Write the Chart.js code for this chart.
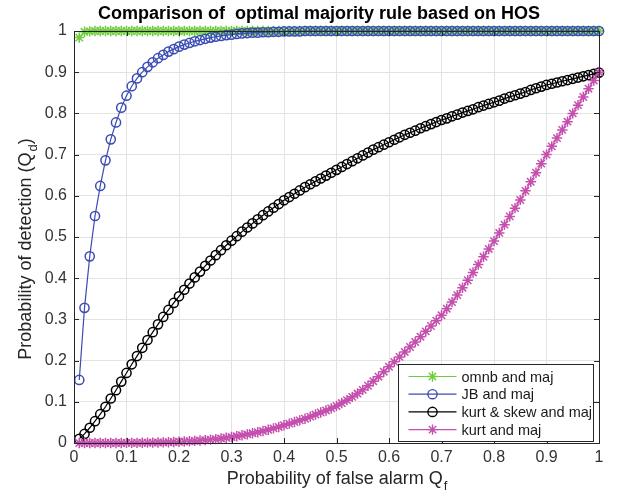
<!DOCTYPE html>
<html>
<head>
<meta charset="utf-8">
<script src="https://cdn.jsdelivr.net/npm/chart.js@4"></script>
<style>
  body { margin: 0; background: #fff; }
  canvas { display: block; }
</style>
</head>
<body>
<canvas id="rocChart" width="617" height="498"></canvas>
<script>
// false alarm probability (x)
const qf = [
  0.01, 0.02, 0.03, 0.04, 0.05, 0.06, 0.07, 0.08, 0.09, 0.10,
  0.11, 0.12, 0.13, 0.14, 0.15, 0.16, 0.17, 0.18, 0.19, 0.20,
  0.21, 0.22, 0.23, 0.24, 0.25, 0.26, 0.27, 0.28, 0.29, 0.30,
  0.31, 0.32, 0.33, 0.34, 0.35, 0.36, 0.37, 0.38, 0.39, 0.40,
  0.41, 0.42, 0.43, 0.44, 0.45, 0.46, 0.47, 0.48, 0.49, 0.50,
  0.51, 0.52, 0.53, 0.54, 0.55, 0.56, 0.57, 0.58, 0.59, 0.60,
  0.61, 0.62, 0.63, 0.64, 0.65, 0.66, 0.67, 0.68, 0.69, 0.70,
  0.71, 0.72, 0.73, 0.74, 0.75, 0.76, 0.77, 0.78, 0.79, 0.80,
  0.81, 0.82, 0.83, 0.84, 0.85, 0.86, 0.87, 0.88, 0.89, 0.90,
  0.91, 0.92, 0.93, 0.94, 0.95, 0.96, 0.97, 0.98, 0.99, 1.00
];

const omnbMaj = [
  0.984, 0.998, 0.999, 1, 1, 1, 1, 1, 1, 1,
  1, 1, 1, 1, 1, 1, 1, 1, 1, 1,
  1, 1, 1, 1, 1, 1, 1, 1, 1, 1,
  1, 1, 1, 1, 1, 1, 1, 1, 1, 1,
  1, 1, 1, 1, 1, 1, 1, 1, 1, 1,
  1, 1, 1, 1, 1, 1, 1, 1, 1, 1,
  1, 1, 1, 1, 1, 1, 1, 1, 1, 1,
  1, 1, 1, 1, 1, 1, 1, 1, 1, 1,
  1, 1, 1, 1, 1, 1, 1, 1, 1, 1,
  1, 1, 1, 1, 1, 1, 1, 1, 1, 1
];

const jbMaj = [
  0.153, 0.328, 0.453, 0.551, 0.624, 0.686, 0.737, 0.778, 0.814, 0.843,
  0.866, 0.885, 0.900, 0.913, 0.924, 0.934, 0.942, 0.950, 0.956, 0.962,
  0.967, 0.971, 0.975, 0.978, 0.981, 0.984, 0.986, 0.988, 0.990, 0.991,
  0.993, 0.994, 0.995, 0.996, 0.996, 0.997, 0.997, 0.998, 0.998, 0.999,
  0.999, 0.999, 0.999, 1, 1, 1, 1, 1, 1, 1,
  1, 1, 1, 1, 1, 1, 1, 1, 1, 1,
  1, 1, 1, 1, 1, 1, 1, 1, 1, 1,
  1, 1, 1, 1, 1, 1, 1, 1, 1, 1,
  1, 1, 1, 1, 1, 1, 1, 1, 1, 1,
  1, 1, 1, 1, 1, 1, 1, 1, 1, 1
];

const kurtSkewMaj = [
  0.010, 0.022, 0.037, 0.053, 0.070, 0.088, 0.108, 0.128, 0.149, 0.170,
  0.191, 0.211, 0.231, 0.250, 0.269, 0.288, 0.306, 0.323, 0.340, 0.356,
  0.372, 0.387, 0.402, 0.416, 0.430, 0.443, 0.456, 0.468, 0.480, 0.491,
  0.502, 0.513, 0.523, 0.533, 0.543, 0.553, 0.562, 0.571, 0.580, 0.589,
  0.597, 0.605, 0.613, 0.621, 0.628, 0.635, 0.642, 0.649, 0.656, 0.663,
  0.670, 0.677, 0.684, 0.691, 0.698, 0.705, 0.712, 0.718, 0.724, 0.730,
  0.736, 0.742, 0.748, 0.753, 0.758, 0.764, 0.769, 0.774, 0.779, 0.784,
  0.788, 0.793, 0.797, 0.802, 0.806, 0.810, 0.815, 0.819, 0.823, 0.827,
  0.831, 0.836, 0.840, 0.844, 0.848, 0.852, 0.857, 0.861, 0.865, 0.869,
  0.872, 0.875, 0.878, 0.881, 0.884, 0.887, 0.890, 0.893, 0.896, 0.899
];

const kurtMaj = [
  0, 0, 0, 0, 0, 0, 0, 0, 0.0001, 0.0002,
  0.0003, 0.0004, 0.0006, 0.0008, 0.001, 0.0013, 0.0016, 0.002, 0.0025, 0.003,
  0.0036, 0.0043, 0.0051, 0.006, 0.007, 0.0082, 0.0095, 0.011, 0.0127, 0.0145,
  0.0165, 0.0187, 0.021, 0.0235, 0.026, 0.029, 0.032, 0.0355, 0.039, 0.043,
  0.047, 0.051, 0.055, 0.059, 0.064, 0.069, 0.074, 0.079, 0.084, 0.09,
  0.097, 0.104, 0.112, 0.12, 0.129, 0.139, 0.15, 0.161, 0.173, 0.185,
  0.197, 0.209, 0.221, 0.233, 0.245, 0.258, 0.271, 0.284, 0.297, 0.31,
  0.326, 0.342, 0.359, 0.377, 0.395, 0.414, 0.433, 0.452, 0.471, 0.49,
  0.51, 0.53, 0.55, 0.57, 0.59, 0.612, 0.634, 0.656, 0.678, 0.70,
  0.72, 0.74, 0.76, 0.78, 0.80, 0.82, 0.84, 0.86, 0.88, 0.90
];

const seriesNames = ["omnb and maj", "JB and maj", "kurt & skew and maj", "kurt and maj"];
const seriesColors = ["#6fcc3c", "#3b4cb4", "#000000", "#c54fae"];
const seriesMarkers = ["star", "circle", "circle", "star"];
const markerSizes = [5.2, 4.6, 4.6, 5.2];

const FONT = "'Liberation Sans', Arial, sans-serif";
const AXIS_COLOR = "#262626";

function toPoints(ys) {
  return qf.map((x, i) => ({ x: x, y: ys[i] }));
}

// draws a matlab style marker for the legend
function drawMarker(ctx, style, x, y, r, color) {
  ctx.save();
  ctx.strokeStyle = color;
  ctx.lineWidth = 1.4;
  ctx.beginPath();
  if (style === "circle") {
    ctx.arc(x, y, r, 0, Math.PI * 2);
  } else {
    for (let k = 0; k < 4; k++) {
      const a = (k * Math.PI) / 4;
      ctx.moveTo(x - r * Math.cos(a), y - r * Math.sin(a));
      ctx.lineTo(x + r * Math.cos(a), y + r * Math.sin(a));
    }
  }
  ctx.stroke();
  ctx.restore();
}

const matlabFrame = {
  id: "matlabFrame",
  afterDraw(chart) {
    const ctx = chart.ctx;
    const a = chart.chartArea;
    const xs = chart.scales.x;
    const ys = chart.scales.y;
    ctx.save();

    // box + inward ticks
    ctx.strokeStyle = AXIS_COLOR;
    ctx.lineWidth = 1;
    ctx.strokeRect(Math.round(a.left) + 0.5, Math.round(a.top) + 0.5,
      Math.round(a.right - a.left), Math.round(a.bottom - a.top));
    ctx.beginPath();
    xs.ticks.forEach((t) => {
      const px = Math.round(xs.getPixelForValue(t.value)) + 0.5;
      ctx.moveTo(px, a.bottom);
      ctx.lineTo(px, a.bottom - 5);
      ctx.moveTo(px, a.top);
      ctx.lineTo(px, a.top + 5);
    });
    ys.ticks.forEach((t) => {
      const py = Math.round(ys.getPixelForValue(t.value)) + 0.5;
      ctx.moveTo(a.left, py);
      ctx.lineTo(a.left + 5, py);
      ctx.moveTo(a.right, py);
      ctx.lineTo(a.right - 5, py);
    });
    ctx.stroke();

    // title
    ctx.fillStyle = "#000";
    ctx.font = "bold 18px " + FONT;
    ctx.textAlign = "center";
    ctx.textBaseline = "alphabetic";
    ctx.fillText("Comparison of  optimal majority rule based on HOS", 319, 19);

    // x axis title with subscript
    ctx.fillStyle = AXIS_COLOR;
    const xMain = "Probability of false alarm Q";
    ctx.font = "18px " + FONT;
    const wMain = ctx.measureText(xMain).width;
    ctx.font = "13px " + FONT;
    const wSub = ctx.measureText("f").width;
    const xStart = (a.left + a.right) / 2 - (wMain + wSub) / 2;
    ctx.textAlign = "left";
    ctx.font = "18px " + FONT;
    ctx.fillText(xMain, xStart, 484);
    ctx.font = "13px " + FONT;
    ctx.fillText("f", xStart + wMain + 1, 490);

    // y axis title with subscript
    ctx.save();
    ctx.translate(31, (a.top + a.bottom) / 2 + 12);
    ctx.rotate(-Math.PI / 2);
    const yMain = "Probability of detection (Q";
    ctx.font = "18px " + FONT;
    const wy1 = ctx.measureText(yMain).width;
    const wy3 = ctx.measureText(")").width;
    ctx.font = "13px " + FONT;
    const wy2 = ctx.measureText("d").width;
    const yStart = -(wy1 + wy2 + wy3 + 1) / 2;
    ctx.font = "18px " + FONT;
    ctx.fillText(yMain, yStart, 0);
    ctx.font = "13px " + FONT;
    ctx.fillText("d", yStart + wy1 + 1, 6);
    ctx.font = "18px " + FONT;
    ctx.fillText(")", yStart + wy1 + wy2 + 1, 0);
    ctx.restore();

    // legend box
    const lw = 195, lh = 77;
    const lx = Math.round(a.right - 6 - lw) + 0.5;
    const ly = Math.round(a.bottom - 2 - lh) + 0.5;
    ctx.fillStyle = "#fff";
    ctx.fillRect(lx, ly, lw, lh);
    ctx.strokeStyle = AXIS_COLOR;
    ctx.strokeRect(lx, ly, lw, lh);
    ctx.font = "14.5px " + FONT;
    ctx.textBaseline = "middle";
    seriesNames.forEach((name, i) => {
      const rowY = ly + 12 + i * 17.7;
      ctx.strokeStyle = seriesColors[i];
      ctx.lineWidth = 1.2;
      ctx.beginPath();
      ctx.moveTo(lx + 10, rowY);
      ctx.lineTo(lx + 58, rowY);
      ctx.stroke();
      drawMarker(ctx, seriesMarkers[i], lx + 34, rowY, markerSizes[i], seriesColors[i]);
      ctx.fillStyle = "#1a1a1a";
      ctx.fillText(name, lx + 63, rowY + 1);
    });
    ctx.restore();
  },
};

const tickLabel = (v) => String(Math.round(v * 10) / 10);

new Chart(document.getElementById("rocChart"), {
  type: "line",
  data: {
    datasets: [omnbMaj, jbMaj, kurtSkewMaj, kurtMaj].map((ys, i) => ({
      label: seriesNames[i],
      data: toPoints(ys),
      borderColor: seriesColors[i],
      backgroundColor: "rgba(0,0,0,0)",
      borderWidth: 1.2,
      pointStyle: seriesMarkers[i],
      pointRadius: markerSizes[i],
      pointBorderWidth: 1.5,
      pointBorderColor: seriesColors[i],
      pointBackgroundColor: "rgba(0,0,0,0)",
      tension: 0,
      fill: false,
      clip: false,
      order: 4 - i,
    })),
  },
  options: {
    responsive: false,
    animation: false,
    layout: { padding: { left: 0, right: 18, top: 31, bottom: 0 } },
    plugins: {
      legend: { display: false },
      title: { display: false },
      tooltip: { enabled: false },
    },
    scales: {
      x: {
        type: "linear",
        min: 0,
        max: 1,
        ticks: { stepSize: 0.1, color: "#333", font: { family: FONT, size: 16 }, padding: 5, maxRotation: 0, callback: tickLabel },
        grid: { color: "#e3e3e3", drawTicks: false },
        border: { display: false },
        afterFit: (s) => { s.height = 55; },
      },
      y: {
        min: 0,
        max: 1,
        ticks: { stepSize: 0.1, color: "#333", font: { family: FONT, size: 16 }, padding: 7, callback: tickLabel },
        grid: { color: "#e3e3e3", drawTicks: false },
        border: { display: false },
        afterFit: (s) => { s.width = 74; },
      },
    },
  },
  plugins: [matlabFrame],
});
</script>
</body>
</html>
